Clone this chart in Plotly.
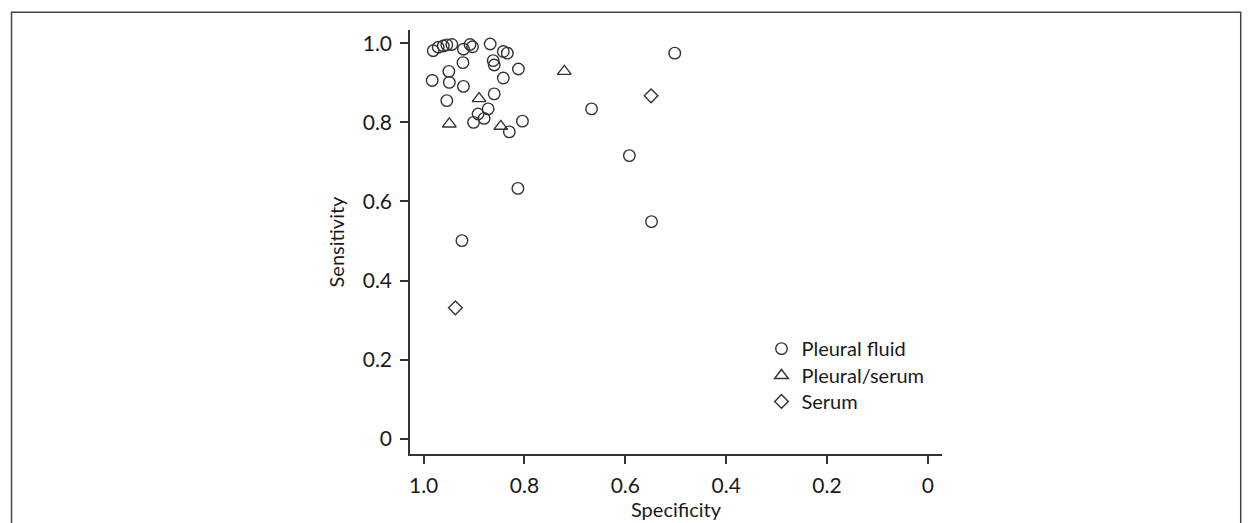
import plotly.graph_objects as go

# Pleural fluid (circles)
pf_spec = [0.981, 0.971, 0.961, 0.954, 0.944, 0.921, 0.908, 0.903, 0.868, 0.842,
           0.834, 0.922, 0.862, 0.860, 0.812, 0.950, 0.983, 0.949, 0.921, 0.842,
           0.860, 0.954, 0.872, 0.880, 0.892, 0.901, 0.830, 0.804,
           0.667, 0.592, 0.813, 0.924, 0.548, 0.502]
pf_sens = [0.981, 0.990, 0.993, 0.996, 0.997, 0.985, 0.997, 0.991, 0.998, 0.979,
           0.975, 0.951, 0.956, 0.945, 0.935, 0.929, 0.906, 0.901, 0.891, 0.912,
           0.872, 0.855, 0.834, 0.810, 0.821, 0.800, 0.776, 0.803,
           0.834, 0.716, 0.633, 0.501, 0.549, 0.975]
# Pleural/serum (triangles)
ps_spec = [0.890, 0.949, 0.847, 0.721]
ps_sens = [0.860, 0.796, 0.790, 0.929]
# Serum (diamonds)
se_spec = [0.549, 0.937]
se_sens = [0.867, 0.331]

tick_vals = [0, 0.2, 0.4, 0.6, 0.8, 1.0]
tick_text = ["0", "0.2", "0.4", "0.6", "0.8", "1.0"]

INK = "#333333"
TXT = "#1a1a1a"
FONT = "Lato, 'Open Sans', sans-serif"

fig = go.Figure()
fig.add_trace(go.Scatter(x=pf_spec, y=pf_sens, mode="markers", name="Pleural fluid",
                         legend="legend",
                         marker=dict(symbol="circle-open", size=11.5, color=INK,
                                     line=dict(width=1.4, color=INK))))
fig.add_trace(go.Scatter(x=ps_spec, y=ps_sens, mode="markers", name="Pleural/serum",
                         legend="legend2",
                         marker=dict(symbol="triangle-up-open", size=12, color=INK,
                                     line=dict(width=1.4, color=INK))))
fig.add_trace(go.Scatter(x=se_spec, y=se_sens, mode="markers", name="Serum",
                         legend="legend3",
                         marker=dict(symbol="diamond-open", size=10.5, color=INK,
                                     line=dict(width=1.4, color=INK))))

leg_common = dict(x=0.6607, xanchor="left", yanchor="top",
                  font=dict(size=20, color=TXT), itemwidth=30,
                  bgcolor="rgba(0,0,0,0)")

fig.update_layout(
    width=1251, height=523,
    margin=dict(l=410, r=309, t=30, b=67),
    paper_bgcolor="white", plot_bgcolor="white",
    font=dict(family=FONT, size=20, color=TXT),
    showlegend=True,
    legend=dict(y=0.2946, **leg_common),
    legend2=dict(y=0.2312, **leg_common),
    legend3=dict(y=0.170, **leg_common),
    xaxis=dict(range=[1.027, -0.028], tickvals=tick_vals, ticktext=tick_text,
               showgrid=False, zeroline=False, showline=True, linecolor=INK, linewidth=1.5,
               ticks="outside", ticklen=8, tickwidth=1.5, tickcolor=INK,
               ticklabelstandoff=4,
               title=dict(text="Specificity", font=dict(size=20), standoff=0),
               tickfont=dict(size=21)),
    yaxis=dict(range=[-0.0385, 1.0335], tickvals=tick_vals,
               ticktext=tick_text,
               showgrid=False, zeroline=False, showline=True, linecolor=INK, linewidth=1.5,
               ticks="outside", ticklen=8, tickwidth=1.5, tickcolor=INK,
               ticklabelstandoff=4,
               title=dict(text="Sensitivity", font=dict(size=20), standoff=13),
               tickfont=dict(size=21)),
    shapes=[dict(type="rect", xref="paper", yref="paper",
                 x0=-0.749, x1=1.5615, y0=-0.25, y1=1.042,
                 line=dict(color="#444444", width=1.5), fillcolor="rgba(0,0,0,0)",
                 layer="below")],
)

fig.write_html("out.html")
